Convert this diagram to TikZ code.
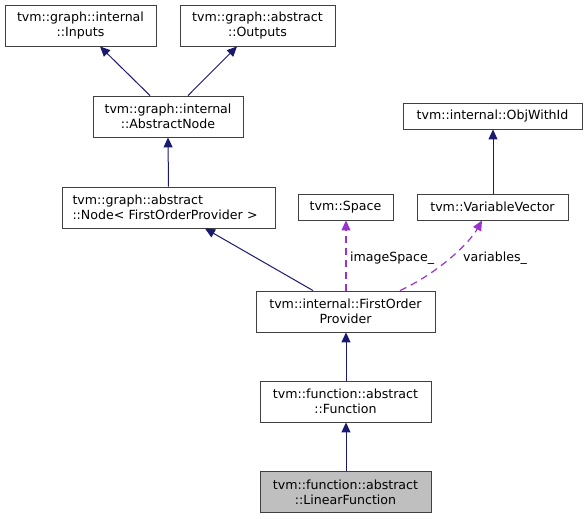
\documentclass[tikz,border=0pt]{standalone}
\usepackage{fontspec}
\setmainfont{DejaVu Sans}
\usetikzlibrary{arrows.meta}
\definecolor{edgeblue}{HTML}{191970}
\definecolor{orchid}{HTML}{9A32CD}
\definecolor{boxline}{HTML}{404040}
\tikzset{
  cls/.style={draw=boxline, line width=0.9pt, fill=white, inner sep=0pt, align=center,
    font=\fontsize{12.6}{15}\selectfont},
  inh/.style={draw=edgeblue, line width=1pt, -{Triangle[length=10pt,width=9pt]}},
  use/.style={draw=orchid, line width=1.2pt, dash pattern=on 7pt off 5pt, -{Triangle[length=10pt,width=9pt,fill=orchid]}},
  lbl/.style={font=\fontsize{12.6}{15}\selectfont, anchor=west, inner sep=0pt}
}
\begin{document}
\begin{tikzpicture}[x=1pt,y=-1pt]
\useasboundingbox (0,0) rectangle (587,519);
\node[cls, minimum width=151pt, minimum height=41pt] (in) at (80.5,25.5) {tvm::graph::internal\\::Inputs};
\node[cls, minimum width=155pt, minimum height=41pt] (out) at (257.5,25.5) {tvm::graph::abstract\\::Outputs};
\node[cls, minimum width=150pt, minimum height=41pt] (abs) at (168,116.5) {tvm::graph::internal\\::AbstractNode};
\node[cls, minimum width=213pt, minimum height=41pt, align=left, text width=192pt] (nd) at (168.5,207.5) {tvm::graph::abstract\\::Node< FirstOrderProvider >};
\node[cls, minimum width=95pt, minimum height=26pt] (sp) at (345.5,207) {tvm::Space};
\node[cls, minimum width=151pt, minimum height=26pt] (vv) at (492.5,207) {tvm::VariableVector};
\node[cls, minimum width=179pt, minimum height=26pt] (obj) at (492.5,116) {tvm::internal::ObjWithId};
\node[cls, minimum width=179pt, minimum height=41pt] (fop) at (345.5,311.5) {tvm::internal::FirstOrder\\Provider};
\node[cls, minimum width=171pt, minimum height=41pt] (fun) at (345.5,401.5) {tvm::function::abstract\\::Function};
\node[cls, minimum width=171pt, minimum height=41pt, fill=black!25] (lin) at (345.5,492) {tvm::function::abstract\\::LinearFunction};

\draw[inh] ([xshift=-18pt]abs.north) -- ([xshift=19.5pt]in.south);
\draw[inh] ([xshift=20pt]abs.north) -- ([xshift=-20.5pt]out.south);
\draw[inh] (nd.north) -- (abs.south);
\draw[inh] ([xshift=-32.5pt]fop.north) -- ([xshift=36.5pt]nd.south);
\draw[inh] ([xshift=0.5pt]vv.north) -- ([xshift=0.5pt]obj.south);
\draw[inh] ([xshift=0.5pt]fun.north) -- ([xshift=0.5pt]fop.south);
\draw[inh] ([xshift=0.5pt]lin.north) -- ([xshift=0.5pt]fun.south);

\draw[use] ([xshift=0.5pt]fop.north) -- ([xshift=0.5pt]sp.south);
\draw[use] ([xshift=54.5pt]fop.north) .. controls (440,272) and (470,242) .. ([xshift=-10.5pt]vv.south);
\node[lbl] (l1) at (350,258) {imageSpace\_};
\node[lbl] (l2) at (463,258) {variables\_};
\end{tikzpicture}
\end{document}
